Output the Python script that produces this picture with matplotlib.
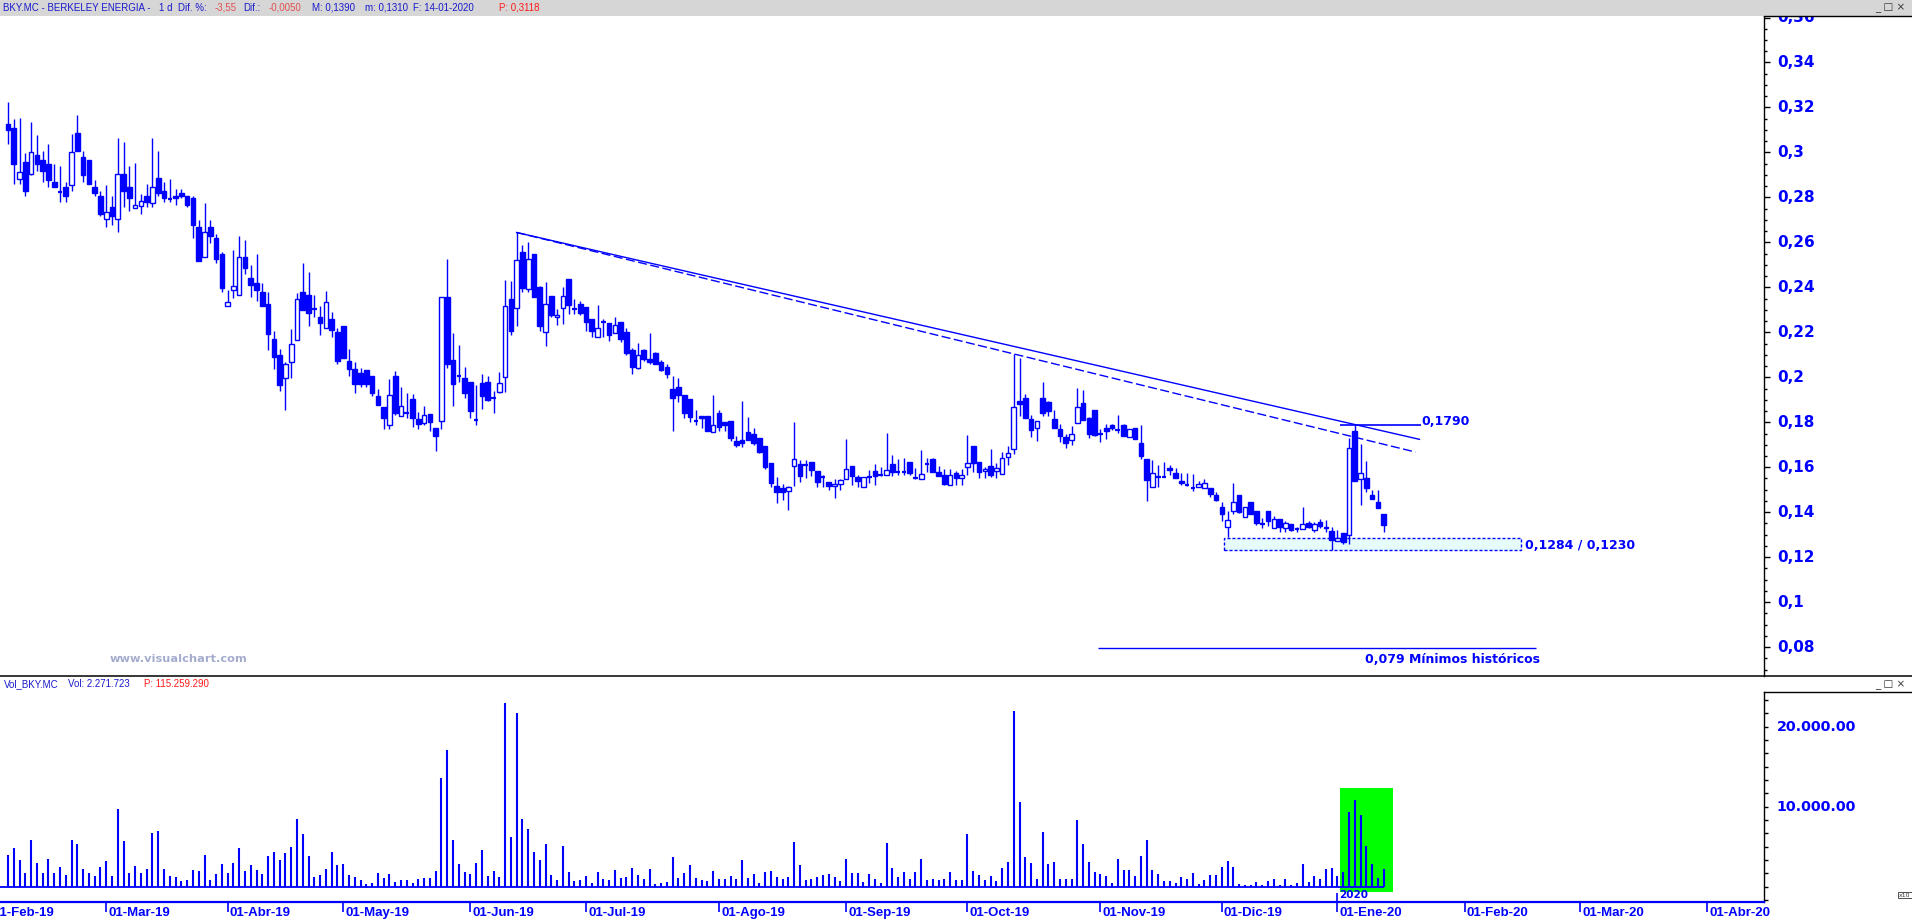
import matplotlib
matplotlib.use("Agg")
import matplotlib.pyplot as plt
import numpy as np
from matplotlib import font_manager
from matplotlib.patches import Rectangle
from matplotlib.lines import Line2D

# ---- data ----------------------------------------------------------------
OPEN = [
    .3125, .3107, .2883, .2956, .2906, .2987, .2965, .2947, .2867, .2826,
    .2845, .2857, .3085, .2978, .2965, .2845, .2805, .2706, .2756, .2706,
    .2906, .2845, .2753, .2763, .2805, .2777, .2885, .2827, .2797, .2805,
    .2818, .2805, .2796, .2667, .2537, .2667, .2618, .2547, .2315, .2386,
    .2364, .2537, .2441, .2419, .2379, .2325, .2170, .2099, .1995, .2066,
    .2164, .2379, .2365, .2307, .2268, .2217, .2259, .2201, .2228, .2072,
    .2037, .2019, .2032, .2006, .1917, .1868, .1787, .2006, .1827, .1845,
    .1904, .1815, .1796, .1836, .1775, .1805, .2357, .2077, .2006, .1997,
    .1979, .1811, .1975, .1979, .1909, .1933, .2000, .2348, .2306, .2556,
    .2391, .2548, .2401, .2200, .2361, .2266, .2306, .2437, .2307, .2326,
    .2312, .2259, .2178, .2249, .2240, .2195, .2244, .2200, .2120, .2040,
    .2120, .2080, .2107, .2067, .2044, .1948, .1956, .1922, .1904, .1807,
    .1828, .1827, .1756, .1842, .1801, .1807, .1716, .1721, .1756, .1747,
    .1731, .1696, .1620, .1518, .1509, .1494, .1605, .1616, .1610, .1624,
    .1585, .1557, .1534, .1516, .1525, .1548, .1607, .1558, .1512, .1556,
    .1585, .1566, .1565, .1616, .1581, .1579, .1624, .1555, .1546, .1611,
    .1638, .1579, .1567, .1521, .1574, .1552, .1601, .1696, .1624, .1583,
    .1607, .1582, .1570, .1645, .1681, .1895, .1909, .1815, .1774, .1909,
    .1891, .1815, .1771, .1735, .1722, .1796, .1886, .1817, .1855, .1748,
    .1775, .1787, .1769, .1787, .1734, .1775, .1707, .1638, .1512, .1558,
    .1556, .1598, .1573, .1540, .1524, .1506, .1513, .1508, .1509, .1478,
    .1425, .1334, .1405, .1478, .1379, .1447, .1407, .1351, .1407, .1331,
    .1370, .1330, .1348, .1325, .1326, .1352, .1321, .1357, .1334, .1317,
    .1272, .1309, .1299, .1762, .1548, .1552, .1478, .1447, .1390,
]
HIGH = [
    .3225, .3147, .3151, .2996, .3134, .3076, .3005, .3036, .2947, .2938,
    .2867, .3080, .3165, .3005, .2965, .2876, .2827, .2854, .2805, .3062,
    .3045, .2938, .2951, .2814, .2858, .3062, .3005, .2867, .2880, .2836,
    .2836, .2805, .2805, .2698, .2774, .2698, .2636, .2556, .2388, .2565,
    .2627, .2610, .2499, .2547, .2419, .2379, .2206, .2126, .2068, .2214,
    .2374, .2507, .2467, .2365, .2315, .2383, .2290, .2219, .2228, .2126,
    .2068, .2041, .2032, .2006, .1948, .1868, .1993, .2028, .1957, .1930,
    .1926, .1845, .1873, .1836, .1775, .2355, .2525, .2197, .2144, .2046,
    .1979, .1966, .2015, .2006, .1939, .2024, .2432, .2428, .2644, .2588,
    .2601, .2548, .2406, .2423, .2361, .2303, .2401, .2437, .2348, .2339,
    .2312, .2259, .2321, .2259, .2240, .2268, .2244, .2219, .2132, .2152,
    .2124, .2197, .2112, .2075, .2061, .2006, .1997, .1922, .1904, .1855,
    .1828, .1827, .1922, .1855, .1801, .1807, .1737, .1895, .1824, .1775,
    .1731, .1696, .1620, .1558, .1524, .1518, .1802, .1630, .1633, .1624,
    .1585, .1564, .1534, .1549, .1549, .1727, .1607, .1567, .1556, .1586,
    .1616, .1602, .1753, .1656, .1638, .1642, .1624, .1598, .1678, .1642,
    .1642, .1607, .1593, .1593, .1585, .1593, .1744, .1696, .1624, .1602,
    .1682, .1617, .1669, .1696, .2104, .2086, .1926, .1833, .1805, .1980,
    .1895, .1855, .1793, .1750, .1784, .1953, .1944, .1823, .1855, .1771,
    .1793, .1793, .1833, .1793, .1771, .1775, .1789, .1638, .1633, .1611,
    .1624, .1608, .1598, .1576, .1574, .1571, .1537, .1548, .1509, .1490,
    .1447, .1404, .1531, .1478, .1423, .1447, .1407, .1376, .1407, .1383,
    .1370, .1363, .1348, .1334, .1425, .1361, .1357, .1371, .1367, .1336,
    .1323, .1309, .1731, .1790, .1704, .1626, .1499, .1499, .1390,
]
LOW = [
    .3036, .2858, .2858, .2806, .2900, .2917, .2869, .2846, .2846, .2780,
    .2780, .2829, .3006, .2869, .2860, .2806, .2718, .2669, .2678, .2647,
    .2758, .2740, .2753, .2727, .2758, .2758, .2806, .2780, .2780, .2766,
    .2798, .2758, .2620, .2518, .2537, .2598, .2509, .2380, .2315, .2354,
    .2364, .2460, .2358, .2340, .2318, .2123, .2038, .1941, .1856, .1998,
    .2164, .2300, .2229, .2269, .2189, .2217, .2180, .2059, .2087, .2007,
    .1929, .1959, .1959, .1919, .1879, .1768, .1768, .1834, .1827, .1817,
    .1781, .1772, .1790, .1759, .1674, .1768, .2043, .1874, .1981, .1910,
    .1821, .1790, .1861, .1896, .1843, .1929, .1936, .2189, .2229, .2380,
    .2380, .2358, .2207, .2141, .2269, .2234, .2238, .2283, .2283, .2278,
    .2207, .2181, .2178, .2181, .2163, .2195, .2158, .2101, .2016, .2036,
    .2074, .2061, .2061, .2030, .1999, .1759, .1888, .1821, .1803, .1790,
    .1776, .1759, .1756, .1759, .1759, .1715, .1688, .1688, .1719, .1697,
    .1662, .1590, .1511, .1439, .1453, .1408, .1515, .1533, .1550, .1559,
    .1511, .1511, .1497, .1462, .1497, .1548, .1519, .1511, .1512, .1528,
    .1519, .1562, .1565, .1559, .1564, .1564, .1564, .1549, .1546, .1577,
    .1577, .1559, .1519, .1521, .1519, .1519, .1564, .1577, .1550, .1550,
    .1555, .1550, .1570, .1610, .1657, .1829, .1817, .1733, .1715, .1826,
    .1830, .1773, .1712, .1684, .1697, .1796, .1808, .1728, .1741, .1712,
    .1725, .1764, .1753, .1737, .1734, .1725, .1635, .1448, .1512, .1512,
    .1555, .1564, .1550, .1519, .1516, .1493, .1513, .1508, .1466, .1448,
    .1360, .1290, .1391, .1397, .1379, .1392, .1342, .1330, .1339, .1331,
    .1312, .1312, .1317, .1312, .1326, .1330, .1312, .1330, .1312, .1230,
    .1272, .1259, .1259, .1537, .1431, .1490, .1457, .1417, .1310,
]
CLOSE = [
    .3099, .2948, .2914, .2829, .3003, .2948, .2917, .2877, .2846, .2824,
    .2806, .3003, .3006, .2900, .2860, .2820, .2727, .2737, .2718, .2906,
    .2829, .2798, .2765, .2786, .2780, .2845, .2820, .2798, .2795, .2798,
    .2806, .2766, .2678, .2518, .2644, .2629, .2527, .2398, .2337, .2404,
    .2537, .2487, .2411, .2389, .2318, .2194, .2092, .1967, .2058, .2146,
    .2346, .2300, .2287, .2305, .2243, .2337, .2211, .2074, .2087, .2038,
    .1972, .1972, .1972, .1928, .1879, .1817, .1922, .1839, .1871, .1843,
    .1817, .1794, .1831, .1800, .1737, .2355, .2061, .1972, .2004, .1928,
    .1852, .1809, .1919, .1901, .1907, .1975, .2315, .2207, .2521, .2397,
    .2525, .2358, .2229, .2324, .2278, .2275, .2360, .2323, .2305, .2287,
    .2247, .2207, .2218, .2247, .2189, .2231, .2172, .2110, .2047, .2098,
    .2083, .2070, .2061, .2034, .2016, .1910, .1923, .1843, .1825, .1805,
    .1817, .1759, .1790, .1777, .1790, .1728, .1697, .1710, .1719, .1710,
    .1666, .1599, .1528, .1488, .1488, .1512, .1636, .1559, .1608, .1586,
    .1533, .1555, .1515, .1527, .1543, .1592, .1559, .1537, .1556, .1558,
    .1561, .1564, .1588, .1577, .1579, .1581, .1574, .1553, .1571, .1613,
    .1579, .1559, .1524, .1567, .1550, .1567, .1619, .1617, .1577, .1592,
    .1564, .1596, .1641, .1663, .1867, .1883, .1817, .1764, .1805, .1839,
    .1849, .1773, .1741, .1706, .1747, .1867, .1812, .1750, .1744, .1746,
    .1761, .1773, .1767, .1737, .1771, .1725, .1648, .1542, .1574, .1556,
    .1558, .1588, .1550, .1531, .1522, .1508, .1524, .1531, .1479, .1453,
    .1392, .1365, .1445, .1401, .1423, .1392, .1351, .1349, .1361, .1368,
    .1333, .1354, .1321, .1327, .1348, .1333, .1348, .1339, .1330, .1277,
    .1287, .1266, .1685, .1537, .1574, .1508, .1457, .1417, .1345,
]
# volume, thousands of shares
VOLUME = [
    4000, 4875, 3375, 1750, 5875, 3000, 1750, 3500, 1750, 2500,
    1500, 5875, 5375, 2250, 1750, 1375, 2500, 3250, 1375, 9750,
    5750, 1750, 2625, 1750, 2250, 6750, 7000, 2250, 1375, 1250,
    750, 875, 2125, 2000, 4000, 875, 1625, 2875, 1750, 3000,
    4875, 2000, 2750, 2125, 1625, 3875, 4375, 3375, 4250, 5000,
    8500, 6625, 3875, 1250, 1500, 2250, 4375, 2750, 2875, 1500,
    1250, 875, 375, 500, 1750, 1125, 1625, 625, 875, 875,
    500, 1000, 1125, 1125, 2000, 13625, 17125, 5875, 2875, 1875,
    1625, 3000, 4625, 1375, 2000, 1250, 23000, 6250, 21750, 8500,
    7250, 4375, 3375, 5375, 1500, 875, 5125, 1875, 750, 875,
    1375, 500, 1875, 1000, 875, 2125, 1125, 1250, 2375, 1500,
    1000, 2250, 375, 500, 625, 3750, 1125, 1750, 2750, 1125,
    875, 750, 2000, 1000, 1000, 1375, 1000, 3375, 1125, 1625,
    500, 1875, 2000, 1250, 1000, 1250, 5625, 2750, 875, 1000,
    1250, 1500, 1625, 1250, 750, 3500, 1750, 1750, 625, 1625,
    1000, 500, 5500, 2375, 1250, 1875, 1000, 1875, 3500, 875,
    1000, 875, 1000, 1875, 875, 875, 6625, 2000, 1500, 875,
    1375, 750, 2375, 3125, 22000, 10625, 3750, 3000, 1000, 6875,
    2875, 3125, 1000, 1000, 1000, 8375, 5375, 3125, 1875, 1625,
    1375, 500, 3500, 2125, 2125, 1375, 3875, 5875, 2125, 1625,
    750, 750, 500, 1250, 1000, 1750, 375, 875, 1500, 1500,
    2500, 3250, 2500, 375, 250, 250, 625, 250, 750, 1000,
    250, 1000, 250, 500, 2875, 625, 1375, 1000, 2250, 2375,
    1375, 1875, 9375, 10875, 9000, 5125, 2875, 1125, 2250,
]

# month axis: first label sits 3 sessions before the first candle (06-Feb-19)
MONTH_LABELS = ["01-Feb-19", "01-Mar-19", "01-Abr-19", "01-May-19", "01-Jun-19",
                "01-Jul-19", "01-Ago-19", "01-Sep-19", "01-Oct-19", "01-Nov-19",
                "01-Dic-19", "01-Ene-20", "01-Feb-20", "01-Mar-20", "01-Abr-20"]
SESSIONS_IN_MONTH = [20, 21, 20, 22, 20, 23, 22, 21, 23, 21, 20, 22, 20, 22]
FIRST_OFFSET = -3

PRICE_TICKS = [0.08, 0.10, 0.12, 0.14, 0.16, 0.18, 0.20, 0.22, 0.24, 0.26,
               0.28, 0.30, 0.32, 0.34, 0.36]
VOL_TICKS = [10000, 20000]

RESIST = 0.1790
BOX_TOP, BOX_BOT = 0.1284, 0.1230
HIST_MIN = 0.079
YEAR_START = 230          # first session of 2020
HILITE = (230.5, 239.6)   # green volume highlight

HEADER = [("BKY.MC - BERKELEY ENERGIA -", "#1a1acc", 3),
          ("1 d", "#1a1acc", 159), ("Dif. %:", "#1a1acc", 178),
          ("-3,55", "#e05050", 215), ("Dif.:", "#1a1acc", 243),
          ("-0,0050", "#e05050", 269), ("M: 0,1390", "#1a1acc", 312),
          ("m: 0,1310", "#1a1acc", 365), ("F: 14-01-2020", "#1a1acc", 413),
          ("P: 0,3118", "#ff1a1a", 499)]
VOL_HEADER = [("Vol_BKY.MC", "#1a1acc", 4), ("Vol: 2.271.723", "#1a1acc", 68),
              ("P: 115.259.290", "#ff1a1a", 144)]

BLUE = "#0000FF"
W, H = 1912, 922
XLIM = (-1.38, 303.8)
PLIM = (0.06716, 0.36085)
VLIM = (-1910, 24340)

installed = {f.name for f in font_manager.fontManager.ttflist}
if "Liberation Sans Narrow" in installed:
    HFONT, HSIZE = "Liberation Sans Narrow", 8.4
else:
    HFONT, HSIZE = "Liberation Sans", 7.0

fig = plt.figure(figsize=(W / 100, H / 100), dpi=100)
fig.patch.set_facecolor("white")


def px_axes(left, top, right, bottom):
    return fig.add_axes([left / W, 1 - bottom / H, (right - left) / W, (bottom - top) / H])


def fig_line(x0, y0, x1, y1, **kw):
    fig.add_artist(Line2D([x0 / W, x1 / W], [1 - y0 / H, 1 - y1 / H],
                          transform=fig.transFigure, **kw))


ax = px_axes(0, 15.6, 1764, 676)
axv = px_axes(0, 692, 1764, 902)

n = len(CLOSE)
x = np.arange(n)

# ---- candles -------------------------------------------------------------
bw = 0.8
ax.vlines(x, LOW, HIGH, color=BLUE, lw=1.0, zorder=2)
for i in range(n):
    o, c = OPEN[i], CLOSE[i]
    if abs(c - o) < 0.00025:
        ax.hlines(c, i - bw / 2, i + bw / 2, color=BLUE, lw=1.6, zorder=3)
    else:
        ax.add_patch(Rectangle((i - bw / 2, min(o, c)), bw, abs(c - o),
                               facecolor=BLUE if c < o else "white",
                               edgecolor=BLUE, lw=1.0, zorder=3))

# trend lines from the June high
a = 88
xe = 244.2
k_solid = (HIGH[233] - HIGH[a]) / (233 - a)
k_dash = (HIGH[174] - HIGH[a]) / (174 - a)
ax.plot([a, xe], [HIGH[a], HIGH[a] + k_solid * (xe - a)], color=BLUE, lw=1.0, zorder=4)
ax.plot([a, xe - 0.7], [HIGH[a], HIGH[a] + k_dash * (xe - 0.7 - a)], color=BLUE,
        lw=1.0, ls=(0, (6.5, 2.5)), zorder=4)

# resistance level
ax.hlines(RESIST, 230.4, 244.5, color=BLUE, lw=1.2, zorder=4)
ax.text(244.6, RESIST + 0.0014, f"{RESIST:.4f}".replace(".", ","), color=BLUE,
        fontsize=9, fontweight="bold", ha="left", va="center")

# support box
ax.add_patch(Rectangle((210.4, BOX_BOT), 261.7 - 210.4, BOX_TOP - BOX_BOT,
                       facecolor="#e6fbfb", edgecolor=BLUE, lw=1.0,
                       ls=(0, (2.2, 1.4)), zorder=1))
ax.text(262.5, (BOX_TOP + BOX_BOT) / 2 - 0.0005,
        f"{BOX_TOP:.4f} / {BOX_BOT:.4f}".replace(".", ","), color=BLUE,
        fontsize=9, fontweight="bold", ha="left", va="center")

# historical low
ax.hlines(HIST_MIN + 0.0006, 188.5, 264.4, color=BLUE, lw=1.0)
ax.text(265.1, HIST_MIN - 0.0045, f"{HIST_MIN:.3f}".replace(".", ",") + " Mínimos históricos",
        color=BLUE, fontsize=9, fontweight="bold", ha="right", va="center")

ax.text(110 / 1764, 0.025, "www.visualchart.com", transform=ax.transAxes,
        color="#a4acce", fontsize=8.2, fontweight="bold", ha="left", va="center")

for s in ("left", "top", "bottom"):
    ax.spines[s].set_visible(False)
ax.spines["right"].set_color("black")
ax.spines["right"].set_linewidth(1.0)
ax.set_xticks([])
ax.yaxis.tick_right()
ax.set_yticks(PRICE_TICKS)
ax.set_yticklabels([f"{v:g}".replace(".", ",") for v in PRICE_TICKS],
                   fontweight="bold", fontsize=11, color=BLUE, va="center")
ax.set_yticks(np.arange(0.07, 0.3601, 0.005), minor=True)
ax.tick_params(axis="y", which="major", direction="out", length=4.5, width=1,
               color="black", pad=5)
ax.tick_params(axis="y", which="minor", direction="out", length=2.3, width=1,
               color="black")
# limits last: set_yticks may widen them
ax.set_xlim(*XLIM)
ax.set_ylim(*PLIM)

# ---- volume ---------------------------------------------------------------
axv.add_patch(Rectangle((HILITE[0], -660), HILITE[1] - HILITE[0], 13000,
                        facecolor="#00ff00", edgecolor="none", zorder=1))
axv.vlines(x, 0, VOLUME, color=BLUE, lw=1.5, zorder=3)
axv.hlines(0, XLIM[0], n - 1, color=BLUE, lw=1.3, zorder=3)
for s in ("left", "top"):
    axv.spines[s].set_visible(False)
axv.spines["right"].set_color("black")
axv.spines["right"].set_linewidth(1.0)
axv.spines["bottom"].set_color(BLUE)
axv.spines["bottom"].set_linewidth(1.6)
axv.yaxis.tick_right()
axv.set_yticks(VOL_TICKS)
axv.set_yticklabels([f"{v:,.2f}".replace(",", ".") for v in VOL_TICKS],
                    fontweight="bold", fontsize=10.3, color=BLUE, va="center")
axv.set_yticks(np.arange(-10000 / 6, 24000, 10000 / 6), minor=True)
axv.tick_params(axis="y", which="both", direction="out", length=3, width=1,
                color="black", pad=6)

month_pos = np.concatenate([[FIRST_OFFSET], FIRST_OFFSET + np.cumsum(SESSIONS_IN_MONTH)])
axv.set_xticks(month_pos)
axv.set_xticklabels([])
axv.tick_params(axis="x", direction="out", length=7, width=1.2, color=BLUE)
axv.set_xlim(*XLIM)
axv.set_ylim(*VLIM)
for pos, lab in zip(month_pos, MONTH_LABELS):
    axv.annotate(lab, xy=(pos, 0), xycoords=("data", "axes fraction"),
                 xytext=(1.5, -3.8), textcoords="offset points", ha="left", va="top",
                 fontsize=9.5, fontweight="bold", color=BLUE, annotation_clip=False,
                 family="Liberation Sans")

axv.vlines(YEAR_START, VLIM[0], -790, color=BLUE, lw=1.2, zorder=3)
axv.text(YEAR_START + 0.3, -1040, "2020", color=BLUE, fontsize=7.5, fontweight="bold",
         ha="left", va="center", zorder=4)

# ---- window chrome ---------------------------------------------------------
fig.add_artist(Rectangle((0, 1 - 15.6 / H), 1, 15.6 / H, transform=fig.transFigure,
                         facecolor="#d6d6d6", edgecolor="none", zorder=5))
for txt, col, xp in HEADER:
    t = fig.text(xp / W, 1 - 8 / H, txt, color=col, fontsize=HSIZE, family=HFONT,
                 ha="left", va="center")
    t.set_zorder(6)
for txt, col, xp in VOL_HEADER:
    fig.text(xp / W, 1 - 684 / H, txt, color=col, fontsize=HSIZE, family=HFONT,
             ha="left", va="center")

fig_line(0, 676, W, 676, color="black", lw=1.1)
fig_line(1764, 15.6, W, 15.6, color="black", lw=1.0, zorder=6)
fig_line(1764, 692, W, 692, color="black", lw=1.0)
for yy in (8, 685):
    t = fig.text(1890 / W, 1 - yy / H, "_ □ ×", color="#333333", fontsize=7.5,
                 ha="center", va="center")
    t.set_zorder(7)
fig.text(1905 / W, 1 - 895 / H, "x10", color="#333333", fontsize=4.5, ha="center",
         va="center", bbox=dict(boxstyle="square,pad=0.15", fc="white", ec="#333333", lw=0.6))

fig.savefig("out.png", dpi=100)
